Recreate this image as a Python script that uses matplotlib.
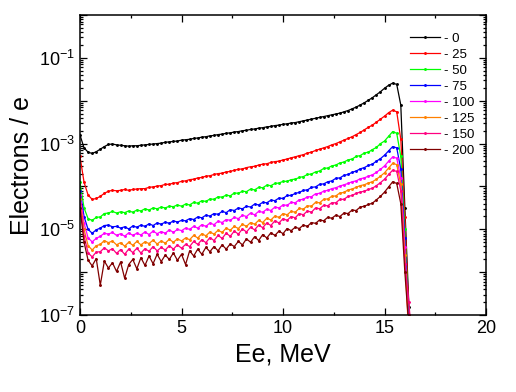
import numpy as np
import matplotlib
matplotlib.use("Agg")
import matplotlib.pyplot as plt
from matplotlib.ticker import LogLocator, FuncFormatter, MultipleLocator, NullFormatter

plt.rcParams['font.family'] = ['Liberation Sans', 'DejaVu Sans']
plt.rcParams['mathtext.fontset'] = 'custom'
plt.rcParams['mathtext.rm'] = 'Liberation Sans'
plt.rcParams['mathtext.default'] = 'regular'

# electron energy grid, MeV (0.2 MeV bins)
energy = np.round(np.arange(0, 16.41, 0.2), 1)

# log10(Electrons / e), rows of 10 bins (2 MeV each)
lg_0 = [-2.80, -3.10, -3.20, -3.23, -3.19, -3.13, -3.07, -3.02, -3.01, -3.03,
        -3.04, -3.05, -3.06, -3.05, -3.05, -3.04, -3.03, -3.02, -3.01, -3.00,
        -2.99, -2.97, -2.96, -2.95, -2.94, -2.92, -2.91, -2.90, -2.88, -2.87,
        -2.85, -2.84, -2.82, -2.81, -2.79, -2.78, -2.76, -2.75, -2.73, -2.72,
        -2.70, -2.69, -2.67, -2.66, -2.64, -2.63, -2.61, -2.60, -2.58, -2.57,
        -2.55, -2.54, -2.52, -2.51, -2.49, -2.47, -2.45, -2.43, -2.41, -2.39,
        -2.37, -2.35, -2.33, -2.31, -2.29, -2.26, -2.23, -2.19, -2.15, -2.10,
        -2.05, -1.99, -1.93, -1.86, -1.79, -1.71, -1.64, -1.59, -1.62, -2.10,
        -4.50, -6.80, -8.00]
lg_25 = [-3.30, -3.90, -4.20, -4.30, -4.28, -4.23, -4.16, -4.11, -4.09, -4.10,
         -4.09, -4.07, -4.09, -4.07, -4.06, -4.05, -4.05, -4.02, -4.01, -3.99,
         -3.98, -3.95, -3.95, -3.92, -3.91, -3.88, -3.87, -3.84, -3.83, -3.80,
         -3.79, -3.76, -3.75, -3.72, -3.70, -3.69, -3.66, -3.65, -3.62, -3.60,
         -3.59, -3.56, -3.54, -3.53, -3.50, -3.48, -3.47, -3.44, -3.42, -3.41,
         -3.38, -3.36, -3.33, -3.31, -3.28, -3.26, -3.22, -3.20, -3.16, -3.13,
         -3.10, -3.07, -3.03, -3.00, -2.96, -2.92, -2.88, -2.84, -2.79, -2.74,
         -2.68, -2.62, -2.57, -2.50, -2.43, -2.36, -2.28, -2.22, -2.26, -2.90,
         -4.70, -7.00, -8.00]
lg_50 = [-3.90, -4.50, -4.75, -4.79, -4.72, -4.71, -4.63, -4.62, -4.58, -4.62,
         -4.59, -4.61, -4.57, -4.60, -4.55, -4.57, -4.52, -4.55, -4.50, -4.52,
         -4.48, -4.50, -4.46, -4.47, -4.43, -4.46, -4.41, -4.43, -4.37, -4.39,
         -4.33, -4.35, -4.29, -4.30, -4.24, -4.25, -4.20, -4.22, -4.15, -4.16,
         -4.11, -4.12, -4.06, -4.08, -4.02, -4.03, -3.97, -3.98, -3.93, -3.92,
         -3.88, -3.88, -3.84, -3.83, -3.79, -3.77, -3.72, -3.71, -3.66, -3.64,
         -3.58, -3.57, -3.52, -3.50, -3.45, -3.43, -3.38, -3.36, -3.30, -3.28,
         -3.22, -3.20, -3.14, -3.09, -3.00, -2.94, -2.83, -2.72, -2.76, -3.30,
         -5.00, -7.20, -8.00]
lg_75 = [-4.10, -4.70, -5.00, -5.09, -5.01, -4.97, -4.91, -4.90, -4.94, -4.93,
         -4.97, -4.94, -4.99, -4.92, -4.95, -4.90, -4.93, -4.87, -4.91, -4.85,
         -4.88, -4.83, -4.86, -4.80, -4.83, -4.79, -4.80, -4.75, -4.77, -4.71,
         -4.73, -4.67, -4.69, -4.63, -4.65, -4.58, -4.61, -4.54, -4.56, -4.50,
         -4.52, -4.46, -4.48, -4.41, -4.43, -4.37, -4.38, -4.32, -4.33, -4.27,
         -4.28, -4.21, -4.21, -4.16, -4.14, -4.09, -4.08, -4.02, -4.01, -3.95,
         -3.94, -3.89, -3.87, -3.81, -3.80, -3.74, -3.72, -3.67, -3.64, -3.59,
         -3.56, -3.51, -3.48, -3.41, -3.35, -3.27, -3.17, -3.07, -3.10, -3.60,
         -5.20, -7.40, -8.00]
lg_100 = [-4.20, -4.85, -5.20, -5.29, -5.21, -5.16, -5.09, -5.11, -5.07, -5.14,
          -5.10, -5.16, -5.08, -5.14, -5.09, -5.13, -5.06, -5.12, -5.04, -5.10,
          -5.05, -5.09, -5.01, -5.07, -5.00, -5.03, -4.97, -5.00, -4.93, -4.97,
          -4.89, -4.93, -4.85, -4.89, -4.81, -4.84, -4.77, -4.79, -4.72, -4.75,
          -4.67, -4.70, -4.62, -4.66, -4.58, -4.60, -4.53, -4.56, -4.48, -4.50,
          -4.43, -4.44, -4.37, -4.38, -4.31, -4.30, -4.24, -4.24, -4.17, -4.16,
          -4.11, -4.09, -4.05, -4.03, -3.99, -3.96, -3.93, -3.89, -3.87, -3.82,
          -3.80, -3.76, -3.73, -3.67, -3.60, -3.52, -3.41, -3.31, -3.34, -3.80,
          -5.40, -7.50, -8.00]
lg_125 = [-4.30, -5.00, -5.38, -5.48, -5.38, -5.35, -5.26, -5.31, -5.27, -5.36,
          -5.31, -5.39, -5.30, -5.37, -5.28, -5.36, -5.29, -5.33, -5.25, -5.34,
          -5.27, -5.32, -5.23, -5.30, -5.22, -5.27, -5.20, -5.24, -5.14, -5.20,
          -5.10, -5.15, -5.06, -5.11, -5.02, -5.07, -4.97, -5.02, -4.93, -4.98,
          -4.88, -4.93, -4.84, -4.88, -4.79, -4.84, -4.74, -4.78, -4.69, -4.72,
          -4.63, -4.66, -4.58, -4.60, -4.51, -4.53, -4.45, -4.46, -4.37, -4.38,
          -4.30, -4.29, -4.23, -4.22, -4.15, -4.14, -4.08, -4.06, -4.02, -3.98,
          -3.96, -3.92, -3.89, -3.83, -3.76, -3.68, -3.57, -3.46, -3.49, -3.95,
          -5.60, -7.60, -8.00]
lg_150 = [-4.40, -5.15, -5.55, -5.64, -5.53, -5.52, -5.43, -5.50, -5.45, -5.56,
          -5.47, -5.58, -5.46, -5.54, -5.44, -5.55, -5.45, -5.51, -5.40, -5.50,
          -5.42, -5.48, -5.38, -5.46, -5.36, -5.44, -5.35, -5.40, -5.28, -5.35,
          -5.24, -5.31, -5.19, -5.26, -5.14, -5.21, -5.09, -5.16, -5.04, -5.11,
          -4.99, -5.06, -4.95, -5.01, -4.90, -4.96, -4.85, -4.91, -4.80, -4.85,
          -4.75, -4.79, -4.70, -4.73, -4.63, -4.66, -4.57, -4.60, -4.50, -4.52,
          -4.44, -4.45, -4.38, -4.38, -4.30, -4.30, -4.23, -4.21, -4.16, -4.13,
          -4.11, -4.07, -4.04, -3.98, -3.91, -3.83, -3.72, -3.62, -3.65, -4.10,
          -5.80, -6.70, -8.00]
lg_200 = [-4.50, -5.30, -5.72, -5.85, -5.68, -6.30, -5.74, -5.90, -5.78, -5.98,
          -5.76, -6.14, -5.82, -5.70, -5.92, -5.66, -5.84, -5.62, -5.80, -5.58,
          -5.75, -5.60, -5.70, -5.55, -5.72, -5.58, -5.82, -5.50, -5.62, -5.46,
          -5.58, -5.42, -5.52, -5.40, -5.50, -5.36, -5.46, -5.34, -5.40, -5.28,
          -5.36, -5.22, -5.30, -5.17, -5.26, -5.12, -5.20, -5.08, -5.14, -5.04,
          -5.10, -4.98, -5.03, -4.95, -4.98, -4.90, -4.93, -4.84, -4.86, -4.78,
          -4.80, -4.72, -4.74, -4.67, -4.70, -4.62, -4.63, -4.55, -4.56, -4.48,
          -4.46, -4.42, -4.39, -4.31, -4.23, -4.13, -4.01, -3.89, -3.93, -4.40,
          -6.00, -7.30, -8.00]

labels = ["- 0", "- 25", "- 50", "- 75", "- 100", "- 125", "- 150", "- 200"]
series = [lg_0, lg_25, lg_50, lg_75, lg_100, lg_125, lg_150, lg_200]
colors = ["black", "#ff0000", "#00ff00", "#0000ff", "#ff00ff", "#ff8000", "#ff0080", "#800000"]

fig = plt.figure(figsize=(5.16, 3.92), dpi=100)
ax = fig.add_axes([0.155, 0.196, 0.787, 0.766])

for lg, col, lab in zip(series, colors, labels):
    ax.plot(energy, 10.0 ** np.array(lg), color=col, lw=0.9, marker='.', ms=2.2, label=lab)

ax.set_yscale('log')
ax.set_xlim(0, 20)
ax.set_ylim(1e-7, 1)

ax.xaxis.set_major_locator(MultipleLocator(5))
ax.xaxis.set_minor_locator(MultipleLocator(2.5))
ax.yaxis.set_major_locator(LogLocator(base=10, numticks=20))
ax.yaxis.set_minor_locator(LogLocator(base=10, subs=np.arange(2, 10), numticks=20))
ax.yaxis.set_minor_formatter(NullFormatter())

def ylab(v, pos):
    e = int(round(np.log10(v)))
    return r"$10^{%d}$" % e if e % 2 != 0 else ""

ax.yaxis.set_major_formatter(FuncFormatter(ylab))
ax.tick_params(which='both', direction='in', top=True, right=True, width=0.9)
ax.tick_params(which='major', length=5, labelsize=13)
ax.tick_params(which='minor', length=2.5)
for s in ax.spines.values():
    s.set_linewidth(1.1)

ax.set_xlabel("Ee, MeV", fontsize=18)
ax.set_ylabel("Electrons / e", fontsize=18)

ax.legend(loc='upper right', frameon=False, fontsize=9.5, handlelength=2.3,
          labelspacing=0.28, handletextpad=0.3, bbox_to_anchor=(1.0, 0.98))

fig.savefig("out.png", dpi=100)
